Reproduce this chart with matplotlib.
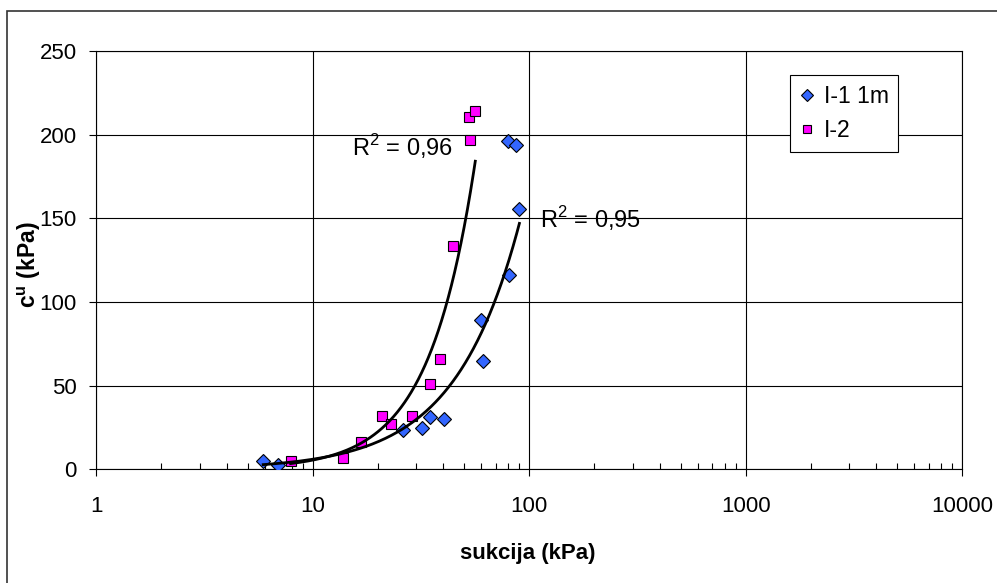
import numpy as np
import matplotlib.pyplot as plt
from matplotlib.patches import Rectangle

plt.rcParams["font.family"] = ["Liberation Sans", "DejaVu Sans"]
plt.rcParams["mathtext.fontset"] = "custom"
plt.rcParams["mathtext.rm"] = "Liberation Sans"
plt.rcParams["mathtext.bf"] = "Liberation Sans:bold"

# I-1 1m (suction kPa, cu kPa)
x1 = [5.9, 6.9, 26.0, 31.8, 34.8, 40.4, 59.8, 60.9, 80.9, 90.0, 80.0, 86.8]
y1 = [5.0, 2.6, 23.5, 24.5, 31.4, 29.9, 89.2, 64.7, 116.1, 155.6, 196.4, 193.8]
# I-2
x2 = [7.9, 13.8, 16.7, 20.8, 22.9, 28.7, 34.8, 38.7, 44.5, 53.4, 52.8, 56.3]
y2 = [5.1, 6.9, 16.5, 32.0, 26.9, 32.0, 51.0, 66.1, 133.3, 196.7, 210.8, 214.2]

labels = ["I-1 1m", "I-2"]
r2_text = ["R$^2$ = 0,95", "R$^2$ = 0,96"]
xticks = [1, 10, 100, 1000, 10000]
yticks = [0, 50, 100, 150, 200, 250]

W, H = 997, 583
fig = plt.figure(figsize=(W / 100, H / 100), dpi=100)
ax = fig.add_axes([96.3 / W, 1 - 469.3 / H, 866 / W, 418.3 / H])
ax.set_xscale("log")
ax.set_xlim(1, 10000)
ax.set_ylim(0, 250)
ax.set_xticks(xticks)
ax.set_xticklabels([str(t) for t in xticks])
ax.set_yticks(yticks)
ax.grid(True, which="major", color="k", lw=0.8)
for s in ax.spines.values():
    s.set_color("k")
    s.set_linewidth(0.8)
ax.tick_params(axis="both", which="major", direction="out", length=5, width=0.8,
               labelsize=16)
ax.tick_params(axis="x", which="major", pad=14)
ax.tick_params(axis="y", which="major", pad=9)
ax.tick_params(axis="x", which="minor", direction="in", length=4, width=0.8)
ax.yaxis.set_minor_locator(plt.NullLocator())
ax.xaxis.set_minor_formatter(plt.NullFormatter())

h1, = ax.plot(x1, y1, "D", ms=7.5, mfc="#3366ff", mec="k", mew=0.8,
              label=labels[0], zorder=3)
h2, = ax.plot(x2, y2, "s", ms=7, mfc="#ff00ff", mec="k", mew=0.8,
              label=labels[1], zorder=3)

# power trendlines
for xs, ys in [(x1, y1), (x2, y2)]:
    xs = np.array(xs)
    ys = np.array(ys)
    xx = np.linspace(xs.min(), xs.max(), 300)
    b, a = np.polyfit(np.log(xs), np.log(ys), 1)
    ax.plot(xx, np.exp(a) * xx ** b, color="k", lw=2, zorder=4)

fig.text(540 / W, 1 - 219 / H, r2_text[0], fontsize=17, va="center", ha="left")
fig.text(352 / W, 1 - 147 / H, r2_text[1], fontsize=17, va="center", ha="left")

leg = ax.legend(handles=[h1, h2], loc="upper left",
                bbox_to_anchor=(790 / W, 1 - 75 / H),
                bbox_transform=fig.transFigure, borderaxespad=0,
                fontsize=16.5, fancybox=False, framealpha=1, edgecolor="k",
                markerscale=0.75, handlelength=0.6, handletextpad=0.45,
                borderpad=0.42, labelspacing=0.5)
leg.get_frame().set_linewidth(0.8)

fig.text(528 / W, 1 - 553 / H, "sukcija (kPa)", fontsize=16, fontweight="bold",
         ha="center", va="center")
fig.text(29 / W, 1 - 265 / H, r"c$^{\mathbf{u}}$ (kPa)", fontsize=16.5,
         fontweight="bold", ha="center", va="center", rotation=90)

fig.add_artist(Rectangle((7 / W, -0.1), 1.2, (H - 11) / H + 0.1, fill=False,
                         transform=fig.transFigure, lw=1.2, ec="#333333"))

fig.savefig("out.png", dpi=100)
